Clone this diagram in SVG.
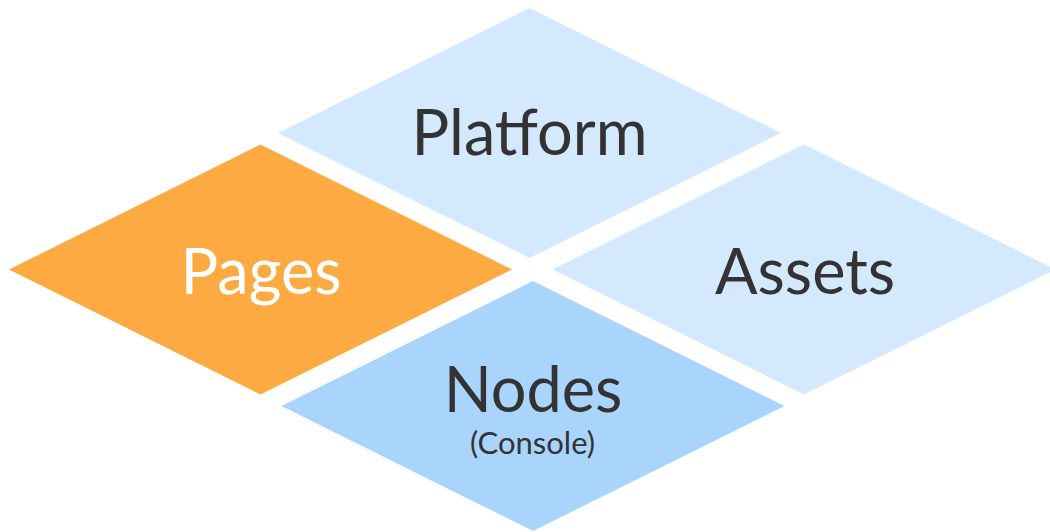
<svg xmlns="http://www.w3.org/2000/svg" width="1050" height="532" viewBox="0 0 1050 532">
<style>
.lbl{font-family:Lato,"Open Sans","DejaVu Sans",sans-serif;text-anchor:middle;fill:#333333}
.big{font-size:63px}
.small{font-size:31px}
.light{fill:#D4E9FD}
.mid{fill:#A9D5FD}
.orange{fill:#FEAA42}
</style>
<rect width="1050" height="532" fill="#ffffff"/>
<g id="platform">
<polygon class="light" points="529.5,8 781,133 529.5,258 278,133"/>
<text class="lbl big" x="529.5" y="155">Platform</text>
</g>
<g id="pages">
<polygon class="orange" points="260.5,144.5 512,269.5 260.5,394.5 9,269.5"/>
<text class="lbl big" x="261" y="294" style="fill:#ffffff">Pages</text>
</g>
<g id="assets">
<polygon class="light" points="804,144.5 1055.5,269.5 804,394.5 552.5,269.5"/>
<text class="lbl big" x="805" y="294">Assets</text>
</g>
<g id="nodes">
<polygon class="mid" points="533,281 784.5,406 533,531 281.5,406"/>
<text class="lbl big" x="533" y="411.5">Nodes</text>
<text class="lbl small" x="532.5" y="454">(Console)</text>
</g>
<g id="connectors"></g>
</svg>
